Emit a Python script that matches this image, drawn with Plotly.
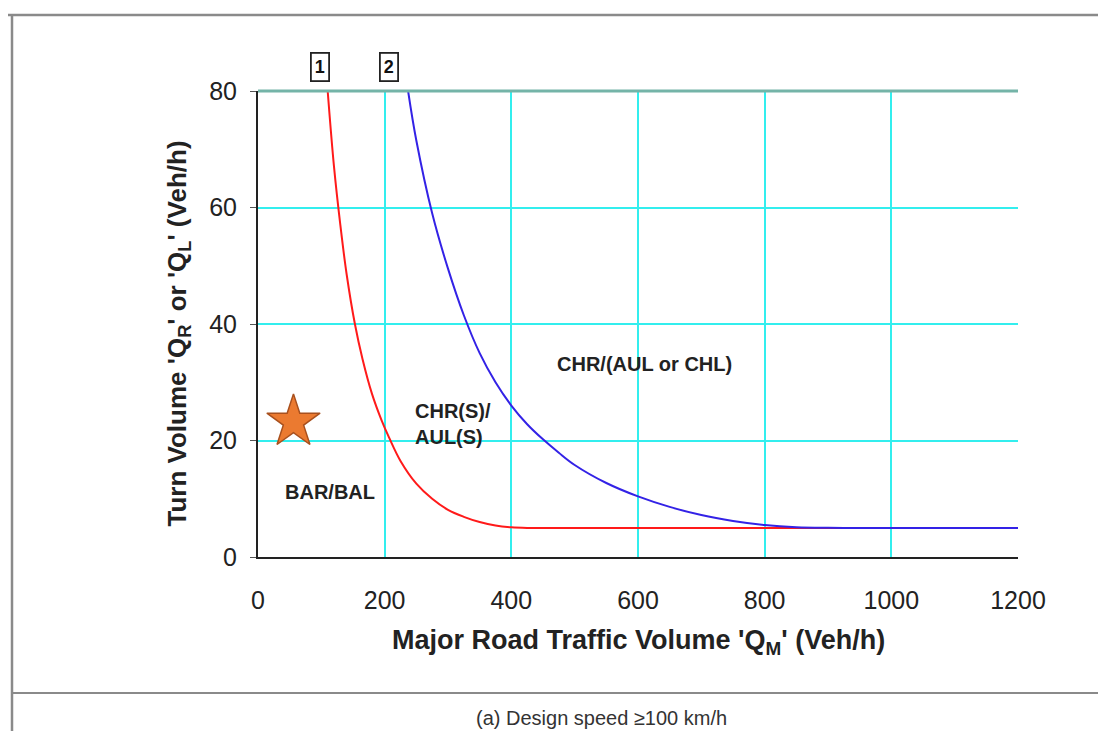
import plotly.graph_objects as go

# Curve 1 (red): boundary BAR/BAL vs CHR(S)/AUL(S)
red_x = [110, 120, 130, 140, 153, 165, 180, 195, 207, 225, 250, 275, 300, 325, 350, 375, 400, 425,
         500, 600, 700, 800, 900, 1000, 1100, 1200]
red_y = [80, 67, 57, 48.5, 40, 34, 28, 23.5, 20.5, 16.5, 12.6, 10, 8.1, 6.9, 6.0, 5.4, 5.1, 5.0,
         5, 5, 5, 5, 5, 5, 5, 5]

# Curve 2 (blue): boundary CHR(S)/AUL(S) vs CHR/(AUL or CHL)
blue_x = [237, 250, 275, 300, 325, 350, 375, 400, 425, 450, 475, 500, 550, 600, 650, 700, 750, 800,
          850, 900, 950, 1000, 1100, 1200]
blue_y = [80, 71.5, 59, 49.5, 41.5, 35, 30, 26, 22.8, 20.2, 17.9, 15.8, 12.7, 10.4, 8.6, 7.2, 6.2, 5.5,
          5.12, 5.01, 5, 5, 5, 5]

star_x = [56]
star_y = [23.2]

x_ticks = [0, 200, 400, 600, 800, 1000, 1200]
y_ticks = [0, 20, 40, 60, 80]

region_labels = ["BAR/BAL", "CHR(S)/<br>AUL(S)", "CHR/(AUL or CHL)"]
region_x = [114, 245, 610]
region_y = [11.2, 22.8, 33.1]

curve_ids = ["1", "2"]
curve_id_x = [98, 207]

FONT = "Liberation Sans, Arial, sans-serif"

fig = go.Figure()
fig.add_trace(go.Scatter(x=red_x, y=red_y, mode="lines",
                         line=dict(color="#FF1A1A", width=2, shape="spline", smoothing=1.0),
                         showlegend=False, hoverinfo="skip"))
fig.add_trace(go.Scatter(x=blue_x, y=blue_y, mode="lines",
                         line=dict(color="#3322E6", width=2, shape="spline", smoothing=1.0),
                         showlegend=False, hoverinfo="skip"))
fig.add_trace(go.Scatter(x=star_x, y=star_y, mode="markers",
                         marker=dict(symbol="star", size=40, color="#EB7A30",
                                     line=dict(color="#A8501E", width=1.5)),
                         showlegend=False, hoverinfo="skip", cliponaxis=False))

annotations = []
anchors = ["center", "left", "center"]
for t, x, y, a in zip(region_labels, region_x, region_y, anchors):
    annotations.append(dict(x=x, y=y, xref="x", yref="y", text="<b>" + t + "</b>",
                            showarrow=False, xanchor=a, align="left",
                            font=dict(family=FONT, size=20, color="#222222")))
for t, x in zip(curve_ids, curve_id_x):
    annotations.append(dict(x=x, y=1.0515, xref="x", yref="paper", text="<b>" + t + "</b>",
                            showarrow=False, xanchor="center", yanchor="middle",
                            bordercolor="#222222", borderwidth=1.8, borderpad=3,
                            font=dict(family=FONT, size=18, color="#111111")))
annotations.append(dict(x=0.5, y=-0.183, xref="paper", yref="paper",
                        text="<b>Major Road Traffic Volume 'Q<sub>M</sub>' (Veh/h)</b>",
                        showarrow=False, xanchor="center", yanchor="middle",
                        font=dict(family=FONT, size=27, color="#222222")))
annotations.append(dict(x=-0.105, y=0.48, xref="paper", yref="paper",
                        text="<b>Turn Volume 'Q<sub>R</sub>' or 'Q<sub>L</sub>' (Veh/h)</b>",
                        showarrow=False, textangle=-90, xanchor="center", yanchor="middle",
                        font=dict(family=FONT, size=26, color="#222222")))
annotations.append(dict(x=0.4526, y=-0.345, xref="paper", yref="paper",
                        text="(a) Design speed \u2265100 km/h",
                        showarrow=False, xanchor="center", yanchor="middle",
                        font=dict(family=FONT, size=20, color="#333333")))

def px2px(px):
    return (px - 258) / 760.0

def py2py(py):
    return (557 - py) / 466.0

shapes = [
    dict(type="line", xref="paper", yref="paper", x0=px2px(5), x1=px2px(1110),
         y0=py2py(15), y1=py2py(15), line=dict(color="#8A8A8A", width=2.5)),
    dict(type="line", xref="paper", yref="paper", x0=px2px(12), x1=px2px(12),
         y0=py2py(15), y1=py2py(735), line=dict(color="#8A8A8A", width=2.5)),
    dict(type="line", xref="paper", yref="paper", x0=px2px(12), x1=px2px(1110),
         y0=py2py(693), y1=py2py(693), line=dict(color="#8A8A8A", width=2)),
    dict(type="line", xref="paper", yref="paper", x0=0, x1=1, y0=1, y1=1,
         line=dict(color="#74B4A8", width=3)),
]

fig.update_layout(
    width=1098, height=723,
    margin=dict(l=250, r=88, t=83, b=174),
    paper_bgcolor="white", plot_bgcolor="white",
    font=dict(family=FONT, color="#222222"),
    annotations=annotations, shapes=shapes,
    xaxis=dict(range=[0, 1200], tickvals=x_ticks, ticktext=[str(v) for v in x_ticks],
               showgrid=True, gridcolor="#33EEEE", gridwidth=2,
               zeroline=False, showline=True, linecolor="#222222", linewidth=2,
               ticks="", ticklabelstandoff=20,
               tickfont=dict(family=FONT, size=25, color="#222222")),
    yaxis=dict(range=[0, 80], tickvals=y_ticks, ticktext=[str(v) for v in y_ticks],
               showgrid=True, gridcolor="#33EEEE", gridwidth=2,
               zeroline=False, showline=True, linecolor="#222222", linewidth=2,
               ticks="outside", ticklen=6, tickcolor="#555555", ticklabelstandoff=8,
               tickfont=dict(family=FONT, size=25, color="#222222")),
)

fig.write_html("out.html")
